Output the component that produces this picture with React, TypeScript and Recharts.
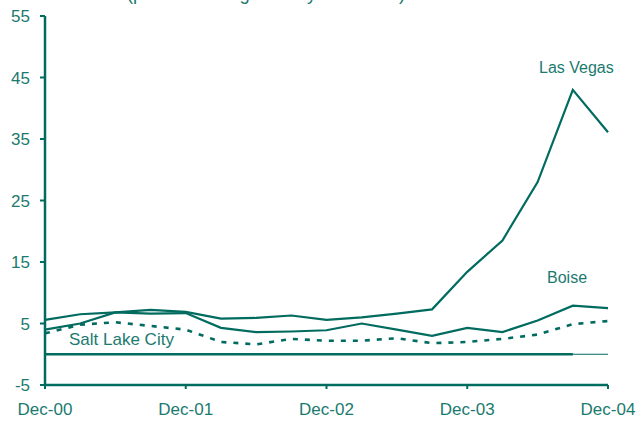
import { LineChart, Line, XAxis, YAxis, ReferenceLine } from 'recharts'

const quarters = [
  'Dec-00', 'Mar-01', 'Jun-01', 'Sep-01', 'Dec-01', 'Mar-02', 'Jun-02', 'Sep-02', 'Dec-02',
  'Mar-03', 'Jun-03', 'Sep-03', 'Dec-03', 'Mar-04', 'Jun-04', 'Sep-04', 'Dec-04',
]
const lasVegas = [5.6, 6.5, 6.8, 7.2, 6.9, 5.8, 5.9, 6.3, 5.6, 6.0, 6.6, 7.3, 13.4, 18.5, 28.0, 43.0, 36.1]
const boise = [4.0, 5.0, 6.8, 6.6, 6.7, 4.3, 3.6, 3.7, 3.9, 5.0, 4.0, 3.0, 4.3, 3.6, 5.5, 7.9, 7.5]
const saltLake = [3.4, 4.8, 5.2, 4.6, 4.0, 2.0, 1.6, 2.5, 2.2, 2.2, 2.6, 1.8, 2.0, 2.5, 3.2, 4.9, 5.4]
const xTicks = ['Dec-00', 'Dec-01', 'Dec-02', 'Dec-03', 'Dec-04']
const yTicks = [-5, 5, 15, 25, 35, 45, 55]

const TEAL = '#006b5f'
const TEXT = '#1b7a6f'

const data = quarters.map((q, i) => ({
  q,
  lasVegas: lasVegas[i],
  boise: boise[i],
  saltLake: saltLake[i],
}))

const labelStyle = {
  position: 'absolute' as const,
  fontFamily: '"Liberation Sans", Arial, sans-serif',
  color: TEXT,
  whiteSpace: 'nowrap' as const,
  lineHeight: 1,
}

export default function App() {
  return (
    <div style={{ position: 'absolute', left: 0, top: 0, width: 637, height: 423, overflow: 'hidden', background: '#fff' }}>
      {/* title sits mostly above the crop, only descenders show */}
      <svg width={637} height={10} style={{ position: 'absolute', left: 0, top: 0 }}>
        <text x={127} y={-0.5} fontSize={18.4} fill={TEXT} fontFamily='"Liberation Sans", Arial, sans-serif'>
          (percent change from year earlier)
        </text>
      </svg>
      <LineChart width={637} height={423} data={data} margin={{ top: 16, right: 29, bottom: 0, left: 0 }}>
        <XAxis
          dataKey="q"
          ticks={xTicks}
          interval={0}
          height={38}
          tickSize={4}
          tickMargin={14}
          axisLine={{ stroke: TEAL, strokeWidth: 2.5 }}
          tickLine={{ stroke: TEAL, strokeWidth: 2 }}
          tick={{ fill: TEXT, fontSize: 17, fontFamily: '"Liberation Sans", Arial, sans-serif' }}
        />
        <YAxis
          domain={[-5, 55]}
          ticks={yTicks}
          width={45}
          tickSize={5}
          tickMargin={10}
          axisLine={{ stroke: TEAL, strokeWidth: 2.5 }}
          tickLine={{ stroke: TEAL, strokeWidth: 2 }}
          tick={{ fill: TEXT, fontSize: 17, fontFamily: '"Liberation Sans Narrow", "Liberation Sans", sans-serif' }}
        />
        <ReferenceLine y={0} stroke={TEAL} strokeWidth={1} />
        <ReferenceLine segment={[{ x: 'Dec-00', y: 0 }, { x: 'Sep-04', y: 0 }]} stroke={TEAL} strokeWidth={2.5} />
        <Line type="linear" dataKey="lasVegas" stroke={TEAL} strokeWidth={2.2} dot={false} isAnimationActive={false} />
        <Line type="linear" dataKey="boise" stroke={TEAL} strokeWidth={2.2} dot={false} isAnimationActive={false} />
        <Line type="linear" dataKey="saltLake" stroke={TEAL} strokeWidth={2.6} strokeDasharray="5 7" dot={false} isAnimationActive={false} />
      </LineChart>
      <div style={{ ...labelStyle, left: 539, top: 60, fontSize: 16 }}>Las Vegas</div>
      <div style={{ ...labelStyle, left: 547, top: 270, fontSize: 16 }}>Boise</div>
      <div style={{ ...labelStyle, left: 69, top: 331, fontSize: 17 }}>Salt Lake City</div>
    </div>
  )
}
